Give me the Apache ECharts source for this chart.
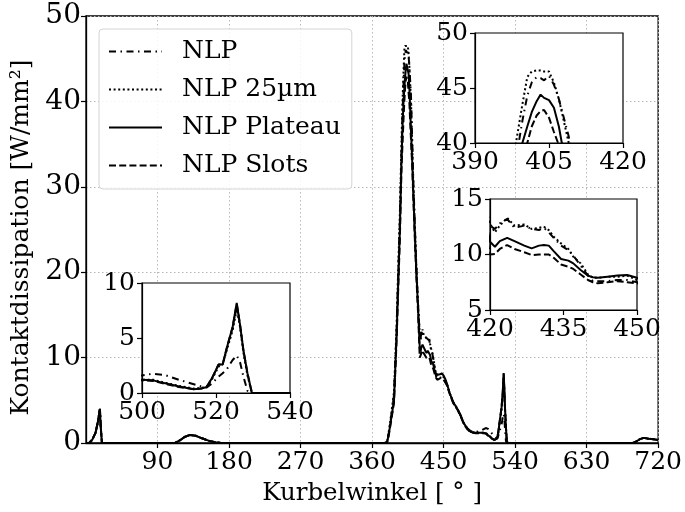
<!DOCTYPE html>
<html>
<head>
<meta charset="utf-8">
<script src="https://cdn.jsdelivr.net/npm/echarts@6/dist/echarts.min.js"></script>
<style>
  html, body { margin: 0; padding: 0; background: #fff; }
  #chart { width: 685px; height: 512px; }
</style>
</head>
<body>
<div id="chart"></div>
<script>
// Crank angle samples [°] shared by all four variants
const kurbelwinkel = [
  0, 4, 8, 12, 15, 17.5, 18.5, 20, 60, 100, 112, 118, 124, 131, 138, 146, 155, 163, 170, 250, 330, 370,
  376, 379, 381, 384, 387.6, 391, 392, 395, 397, 398.3, 399.6, 400.6, 401.5, 402.5, 403.3, 404, 405, 406,
  407, 408, 409, 410.5, 412, 414, 416, 418, 420, 421, 422, 423.5, 425, 427, 428.5, 430, 431, 432, 433,
  434.5, 436, 437, 438.5, 440, 441, 442, 444, 446, 448, 450, 452, 454, 457.5, 462, 468, 472, 475.5, 480,
  484, 490, 496, 500, 503, 506, 510, 514, 516, 517.5, 519, 520.7, 521.8, 523, 524.5, 525.6, 526.5, 527.4,
  528.5, 529.7, 532, 600, 660, 688, 692, 697, 702, 708, 714, 720
];

// Contact dissipation [W/mm²] per variant
const nlp = [
  0, 0, 0.4, 1.2, 2.5, 4.0, 2.0, 0, 0, 0, 0, 0.3, 0.7, 0.95, 0.85, 0.55, 0.25, 0.08, 0, 0, 0, 0,
  0, 0.15, 1.2, 3.1, 5.6, 13.5, 17, 26, 34, 38.5, 42, 44.3, 45.5, 46.0, 45.9, 45.7, 46.1, 45.3,
  44, 42.3, 40.6, 35.5, 30.5, 25, 20, 16, 12.6, 12.3, 12.8, 13.2, 12.4, 12.6, 12.3, 12.2, 12.4, 12.0, 11.5,
  10.8, 10.4, 9.9, 9.0, 8.1, 7.6, 7.6, 7.6, 7.7, 7.7, 7.5, 7.3, 6.9, 5.9, 4.8, 3.9, 3.1, 2.3, 1.7,
  1.4, 1.3, 1.4, 1.6, 1.75, 1.65, 1.2, 0.8, 0.6, 0.5, 0.9, 1.5, 1.8, 2.2, 3.0, 3.4, 2.8, 1.5,
  0.2, 0, 0, 0, 0, 0, 0.15, 0.45, 0.6, 0.5, 0.45, 0.35
];
const nlp25 = [
  0, 0, 0.4, 1.2, 2.5, 4.0, 2.0, 0, 0, 0, 0, 0.3, 0.7, 0.95, 0.85, 0.55, 0.25, 0.08, 0, 0, 0, 0,
  0, 0.2, 1.3, 3.3, 6.0, 14, 17.5, 27, 35, 40, 43.5, 46.0, 46.5, 46.6, 46.6, 46.5, 46.5, 45.5,
  44, 42, 40, 35, 30, 25, 20, 16, 12.8, 12.0, 12.6, 13.3, 12.6, 12.7, 12.3, 12.4, 12.5, 12.2, 11.6,
  11.0, 10.5, 9.8, 9.2, 8.2, 7.9, 7.9, 8.0, 8.0, 8.1, 7.7, 7.4, 7.0, 5.9, 4.8, 3.9, 3.1, 2.3, 1.7,
  1.3, 1.2, 1.2, 1.2, 1.2, 0.95, 0.65, 0.4, 0.45, 0.6, 1.3, 2.4, 2.6, 4.0, 5.7, 7.6, 6.0, 3.7,
  1.6, 0, 0, 0, 0, 0, 0.15, 0.45, 0.6, 0.5, 0.45, 0.35
];
const nlpPlateau = [
  0, 0, 0.4, 1.2, 2.5, 4.0, 2.0, 0, 0, 0, 0, 0.3, 0.7, 0.95, 0.85, 0.55, 0.25, 0.08, 0, 0, 0, 0,
  0, 0.1, 1.0, 2.8, 5.0, 12.9, 16, 25, 33, 37, 40, 41.5, 42.8, 43.8, 44.4, 44.1, 43.9, 43.2,
  41.5, 39, 36.5, 33, 29, 24, 19.5, 15.6, 11.15, 10.7, 11.2, 11.5, 11.2, 10.8, 10.55, 10.8, 10.85, 10.8, 10.3,
  9.6, 9.45, 9.2, 8.6, 8.1, 7.95, 7.9, 8.0, 8.1, 8.15, 7.9, 7.5, 7.0, 5.9, 4.8, 3.9, 3.1, 2.3, 1.7,
  1.3, 1.2, 1.2, 1.2, 1.15, 0.9, 0.6, 0.35, 0.4, 0.55, 1.4, 2.6, 2.6, 4.2, 6.0, 8.2, 6.2, 3.9,
  1.8, 0, 0, 0, 0, 0, 0.15, 0.45, 0.6, 0.5, 0.45, 0.35
];
const nlpSlots = [
  0, 0, 0.4, 1.2, 2.5, 4.0, 2.0, 0, 0, 0, 0, 0.3, 0.7, 0.95, 0.85, 0.55, 0.25, 0.08, 0, 0, 0, 0,
  0, 0.1, 0.9, 2.6, 4.7, 12.3, 15.4, 24, 32, 35, 38, 40, 41.5, 42.5, 42.9, 43.0, 42.3, 41,
  39.8, 37.5, 35.5, 32.5, 28.5, 23.5, 19, 15, 10.0, 10.05, 10.5, 10.85, 10.5, 10.2, 9.95, 10.0, 10.0, 10.0, 9.7,
  9.1, 8.9, 8.7, 8.2, 7.7, 7.5, 7.4, 7.5, 7.6, 7.5, 7.4, 7.2, 6.8, 5.8, 4.7, 3.8, 3.0, 2.2, 1.6,
  1.25, 1.15, 1.15, 1.15, 1.1, 0.85, 0.55, 0.35, 0.4, 0.55, 1.4, 2.6, 2.6, 4.2, 6.0, 8.1, 6.2, 3.9,
  1.8, 0, 0, 0, 0, 0, 0.15, 0.45, 0.6, 0.5, 0.45, 0.35
];

const seriesNames = ['NLP', 'NLP 25µm', 'NLP Plateau', 'NLP Slots'];
const seriesValues = [nlp, nlp25, nlpPlateau, nlpSlots];

// Main axis ticks and the three zoom windows
const mainXTicks = { min: 0, max: 720, interval: 90 };
const mainYTicks = { min: 0, max: 50, interval: 10 };
const zoomWindows = [
  { x: [390, 420, 15], y: [40, 50, 5] },
  { x: [420, 450, 15], y: [5, 15, 5] },
  { x: [500, 540, 20], y: [0, 10, 5] }
];

const FONT = 'DejaVu Serif';
const FS = 25;
const lineTypes = [
  [7, 4.5, 1.5, 4.5],
  [2, 2.6],
  'solid',
  [7, 3.2]
];

const gridRects = [
  { left: 86, top: 16, width: 574, height: 427 },
  { left: 475, top: 33, width: 148, height: 110 },
  { left: 490, top: 199, width: 147, height: 111 },
  { left: 142, top: 283, width: 148, height: 110 }
];

function pairs(vals) {
  return kurbelwinkel.map((k, i) => [k, vals[i]]);
}

const grids = gridRects.map((r, i) => Object.assign({}, r, {
  show: true,
  z: i === 0 ? 0 : 5 + i * 3,
  backgroundColor: '#fff',
  borderColor: '#000',
  borderWidth: i === 0 ? 1.3 : 1.2,
  containLabel: false
}));

const tickLabel = { fontFamily: FONT, fontSize: FS, color: '#000' };

const xAxes = [{
  gridIndex: 0, type: 'value', min: mainXTicks.min, max: mainXTicks.max, interval: mainXTicks.interval,
  name: 'Kurbelwinkel [ ° ]', nameLocation: 'middle', nameGap: 38,
  nameTextStyle: { fontFamily: FONT, fontSize: 24.5, color: '#000' },
  axisLine: { show: true, onZero: false, lineStyle: { color: '#000', width: 1.3 } },
  axisTick: { show: true, length: 5, lineStyle: { color: '#000', width: 1.2 } },
  axisLabel: Object.assign({ showMinLabel: false, margin: 7 }, tickLabel),
  splitLine: { show: true, lineStyle: { color: '#b8b8b8', type: [1.5, 2.5], width: 1 } }
}];
const yAxes = [{
  gridIndex: 0, type: 'value', min: mainYTicks.min, max: mainYTicks.max, interval: mainYTicks.interval,
  name: 'Kontaktdissipation [W/mm²]', nameLocation: 'middle', nameGap: 50,
  nameTextStyle: { fontFamily: FONT, fontSize: FS, color: '#000', padding: [0, 16, 0, 0] },
  axisLine: { show: true, onZero: false, lineStyle: { color: '#000', width: 1.3 } },
  axisTick: { show: true, length: 5, lineStyle: { color: '#000', width: 1.2 } },
  axisLabel: { margin: 5, fontFamily: FONT, fontSize: 28, color: '#000' },
  splitLine: { show: true, lineStyle: { color: '#b8b8b8', type: [1.5, 2.5], width: 1 } }
}];

zoomWindows.forEach((w, i) => {
  const gi = i + 1;
  const z = 6 + gi * 3;
  xAxes.push({
    gridIndex: gi, type: 'value', min: w.x[0], max: w.x[1], interval: w.x[2], z: z,
    axisLine: { show: true, onZero: false, lineStyle: { color: '#000', width: 1.2 } },
    axisTick: { show: true, length: 5, lineStyle: { color: '#000', width: 1.2 } },
    axisLabel: Object.assign({ margin: 7 }, tickLabel),
    splitLine: { show: false }
  });
  yAxes.push({
    gridIndex: gi, type: 'value', min: w.y[0], max: w.y[1], interval: w.y[2], z: z,
    axisLine: { show: true, onZero: false, lineStyle: { color: '#000', width: 1.2 } },
    axisTick: { show: true, length: 5, lineStyle: { color: '#000', width: 1.2 } },
    axisLabel: Object.assign({ margin: 7 }, tickLabel),
    splitLine: { show: false }
  });
});

const series = [];
for (let gi = 0; gi < 4; gi++) {
  seriesNames.forEach((name, si) => {
    series.push({
      name: name,
      type: 'line',
      xAxisIndex: gi,
      yAxisIndex: gi,
      data: pairs(seriesValues[si]),
      showSymbol: false,
      symbol: 'none',
      clip: true,
      animation: false,
      z: gi === 0 ? 2 : 7 + gi * 3,
      itemStyle: { color: '#000' },
      lineStyle: { color: '#000', width: 2, type: lineTypes[si] }
    });
  });
}

const chart = echarts.init(document.getElementById('chart'), null, { renderer: 'canvas' });
chart.setOption({
  animation: false,
  backgroundColor: '#fff',
  grid: grids,
  xAxis: xAxes,
  yAxis: yAxes,
  legend: {
    data: seriesNames,
    orient: 'vertical',
    left: 99,
    top: 29,
    padding: [9, 11, 10, 9],
    itemGap: 11,
    itemWidth: 53,
    itemHeight: 14,
    backgroundColor: 'rgba(255,255,255,0.85)',
    borderColor: '#d4d4d4',
    borderWidth: 1,
    borderRadius: 4,
    z: 20,
    itemStyle: { opacity: 0, borderWidth: 0 },
    textStyle: { fontFamily: FONT, fontSize: FS, color: '#000', lineHeight: 27, padding: [0, 0, 0, 15] }
  },
  series: series
});
</script>
</body>
</html>
